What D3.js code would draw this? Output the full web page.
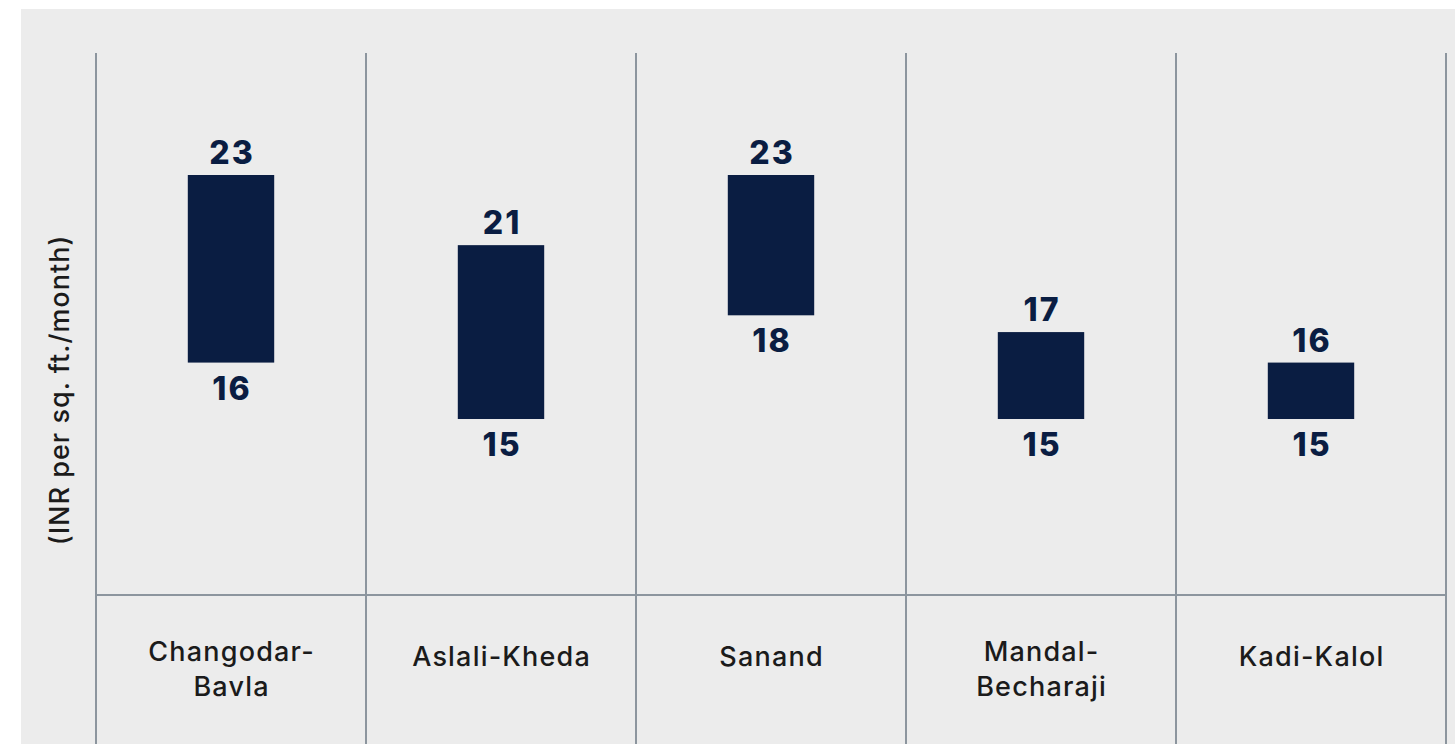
<!DOCTYPE html>
<html>
<head>
<meta charset="utf-8">
<script src="https://cdn.jsdelivr.net/npm/d3@7"></script>
<style>
  body { margin: 0; background: #ffffff; }
  svg { display: block; }
</style>
</head>
<body>
<svg id="chart" width="1455" height="744"></svg>
<script>
// rent ranges per micro-market
var categories = ["Changodar-Bavla", "Aslali-Kheda", "Sanand", "Mandal-Becharaji", "Kadi-Kalol"];
var categoryLines = [["Changodar-", "Bavla"], ["Aslali-Kheda"], ["Sanand"], ["Mandal-", "Becharaji"], ["Kadi-Kalol"]];
var highValues = [23, 20.7, 23, 17.85, 16.85];
var lowValues = [16.85, 15, 18.4, 15, 15];
var highLabels = ["23", "21", "23", "17", "16"];
var lowLabels = ["16", "15", "18", "15", "15"];
var yTitle = "(INR per sq. ft./month)";

var navy = "#0a1d42",
    gridColor = "#8c959e",
    textColor = "#1b1b1b";

var svg = d3.select("#chart");

// grey panel
svg.append("rect")
   .attr("x", 21).attr("y", 9)
   .attr("width", 1434).attr("height", 735)
   .attr("fill", "#ececec");

var plotTop = 53, axisY = 595, plotLeft = 96, plotRight = 1446;

var x = d3.scaleBand().domain(categories).range([plotLeft, plotRight]).padding(0);
var y = d3.scaleLinear().domain([9.23, 27]).range([axisY, plotTop]);

var barW = x.bandwidth() * 0.32;

// column dividers
var edges = categories.map(function(c){ return x(c); }).concat([plotRight]);
svg.append("g").selectAll("line").data(edges).enter()
   .append("line")
   .attr("x1", function(d){ return d; })
   .attr("x2", function(d){ return d; })
   .attr("y1", plotTop)
   .attr("y2", 744)
   .attr("stroke", gridColor)
   .attr("stroke-width", 2);

// baseline of the category row
svg.append("line")
   .attr("x1", plotLeft).attr("x2", plotRight + 1)
   .attr("y1", axisY).attr("y2", axisY)
   .attr("stroke", gridColor)
   .attr("stroke-width", 2);

var rows = categories.map(function(c, i){
	return {cat: c, hi: highValues[i], lo: lowValues[i], hiLabel: highLabels[i], loLabel: lowLabels[i], lines: categoryLines[i]};
});

var cx = function(d){ return x(d.cat) + x.bandwidth() / 2; };

// floating bars
svg.append("g").selectAll("rect").data(rows).enter()
   .append("rect")
   .attr("x", function(d){ return cx(d) - barW / 2; })
   .attr("y", function(d){ return y(d.hi); })
   .attr("width", barW)
   .attr("height", function(d){ return y(d.lo) - y(d.hi); })
   .attr("fill", navy);

var font = "'Inter', 'Noto Sans', sans-serif";

function valueLabels(accessor, offset){
	svg.append("g").selectAll("text").data(rows).enter()
	   .append("text")
	   .attr("x", cx)
	   .attr("dx", 1)
	   .attr("y", function(d){ return accessor(d) + offset; })
	   .attr("text-anchor", "middle")
	   .attr("font-family", font)
	   .attr("font-weight", 800)
	   .attr("font-size", 32)
	   .attr("letter-spacing", 2)
	   .attr("fill", navy)
	   .text(function(d){ return offset < 0 ? d.hiLabel : d.loLabel; });
}
valueLabels(function(d){ return y(d.hi); }, -11);
valueLabels(function(d){ return y(d.lo); }, 37);

// category names
var catG = svg.append("g").selectAll("text").data(rows).enter()
   .append("text")
   .attr("text-anchor", "middle")
   .attr("font-family", font)
   .attr("font-weight", 500)
   .attr("font-size", 27)
   .attr("letter-spacing", 1.2)
   .attr("fill", textColor);

catG.each(function(d){
	var t = d3.select(this);
	var base = d.lines.length > 1 ? 661 : 666;
	d.lines.forEach(function(line, i){
		t.append("tspan")
		 .attr("x", cx(d) + 0.6)
		 .attr("y", base + i * 35)
		 .text(line);
	});
});

// y axis title
svg.append("text")
   .attr("transform", "translate(69," + ((plotTop + axisY) / 2 + 66) + ") rotate(-90)")
   .attr("text-anchor", "middle")
   .attr("font-family", font)
   .attr("font-weight", 500)
   .attr("font-size", 27)
   .attr("letter-spacing", 1)
   .attr("fill", textColor)
   .text(yTitle);
</script>
</body>
</html>
